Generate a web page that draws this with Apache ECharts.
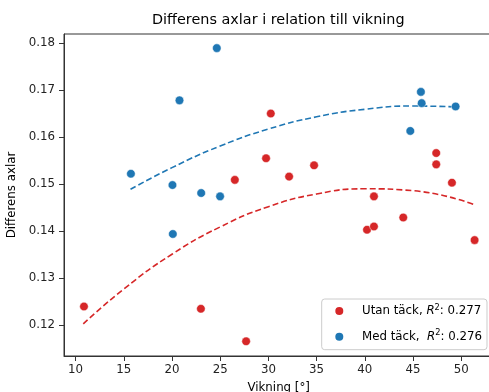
<!DOCTYPE html>
<html><head><meta charset="utf-8">
<script src="https://cdn.jsdelivr.net/npm/echarts@6/dist/echarts.min.js"></script>
<style>html,body{margin:0;padding:0;background:#fff}#c{width:489px;height:392px}</style>
</head><body><div id="c"></div>
<script>
// Utan täck (red)
const redX = [10.87, 23.0, 27.69, 30.25, 26.52, 29.76, 32.15, 34.74, 40.95, 40.23, 40.95, 43.99, 47.41, 47.41, 49.04, 51.39];
const redY = [0.1240, 0.1235, 0.1166, 0.1650, 0.1509, 0.1555, 0.1516, 0.1540, 0.1474, 0.1403, 0.1410, 0.1429, 0.1566, 0.1542, 0.1503, 0.1381];
// Med täck (blue)
const blueX = [24.65, 20.78, 45.82, 45.90, 49.42, 44.72, 15.74, 20.05, 23.03, 24.99, 20.09];
const blueY = [0.1789, 0.1678, 0.1696, 0.1672, 0.1665, 0.1613, 0.1522, 0.1498, 0.1481, 0.1474, 0.1394];
// fitted curves
const redFitX = [10.8, 15, 20, 25, 30, 35, 40, 45, 51.3];
const redFitY = [0.1203, 0.1277, 0.1351, 0.1409, 0.1452, 0.1479, 0.1490, 0.1486, 0.1457];
const blueFitX = [15.7, 20, 25, 30, 35, 40, 45, 49.4];
const blueFitY = [0.1489, 0.1535, 0.1581, 0.1617, 0.1643, 0.1659, 0.1666, 0.1664];
const xTicks = [10, 15, 20, 25, 30, 35, 40, 45, 50];
const yTicks = [0.12, 0.13, 0.14, 0.15, 0.16, 0.17, 0.18];
const labels = ['Utan täck', 'Med täck'];
const r2 = ['0.277', '0.276'];

const RED = '#d62728', BLUE = '#1f77b4';
const F = 'DejaVu Sans';
const FS = 11.8;
const zip = (a, b) => a.map((v, i) => [v, b[i]]);

const chart = echarts.init(document.getElementById('c'), null, {renderer: 'canvas'});
chart.setOption({
  animation: false,
  backgroundColor: '#fff',
  textStyle: {fontFamily: F},
  title: {
    text: 'Differens axlar i relation till vikning',
    left: 152, top: 13, padding: 0,
    textStyle: {fontFamily: F, fontSize: 14.4, fontWeight: 'normal', color: '#000'}
  },
  grid: {left: 64, top: 34, right: -4.4, bottom: 36, outerBoundsMode: 'none', containLabel: false,
    show: true, borderColor: '#333', borderWidth: 1, backgroundColor: 'transparent'},
  xAxis: {
    type: 'value', min: 8.8, max: 53.34,
    name: 'Vikning [°]', nameLocation: 'middle', nameGap: 26,
    nameTextStyle: {fontFamily: F, fontSize: FS, color: '#000'},
    axisLine: {show: true, lineStyle: {color: '#333', width: 1}},
    axisTick: {show: true, inside: false, length: 5, customValues: xTicks, lineStyle: {color: '#333'}},
    axisLabel: {customValues: xTicks, fontFamily: F, fontSize: FS, color: '#222', margin: 8},
    splitLine: {show: false}
  },
  yAxis: {
    type: 'value', min: 0.11347, max: 0.1819,
    name: 'Differens axlar', nameLocation: 'middle', nameGap: 38,
    nameTextStyle: {fontFamily: F, fontSize: FS, color: '#000'},
    axisLine: {show: true, lineStyle: {color: '#333', width: 1}},
    axisTick: {show: true, inside: false, length: 5, customValues: yTicks, lineStyle: {color: '#333'}},
    axisLabel: {customValues: yTicks, fontFamily: F, fontSize: FS, color: '#222', margin: 9,
      formatter: v => v.toFixed(2)},
    splitLine: {show: false}
  },
  legend: {
    data: labels,
    orient: 'vertical',
    left: 321.7, top: 299,
    padding: [4, 5, 5, 11.6],
    itemGap: 9.7,
    itemWidth: 10, itemHeight: 10,
    icon: 'circle',
    backgroundColor: 'rgba(255,255,255,0.8)',
    borderColor: '#ccc', borderWidth: 1, borderRadius: 3,
    formatter: name => {
      const i = labels.indexOf(name);
      const sep = i === 1 ? ',  ' : ', ';
      return name + sep + '{i|R}{s|2}: ' + r2[i];
    },
    textStyle: {
      fontFamily: F, fontSize: FS, color: '#000', padding: [0, 0, 0, 12.7], lineHeight: 16,
      rich: {
        i: {fontFamily: F, fontSize: FS, fontStyle: 'italic', color: '#000', lineHeight: 16},
        s: {fontFamily: F, fontSize: 8.2, color: '#000', padding: [0, 0, 7, 0], lineHeight: 16}
      }
    }
  },
  series: [
    {name: labels[0], type: 'scatter', data: zip(redX, redY), symbolSize: 8.6,
      itemStyle: {color: RED, borderColor: '#fff', borderWidth: 0.5, opacity: 1}, z: 3},
    {name: labels[1], type: 'scatter', data: zip(blueX, blueY), symbolSize: 8.6,
      itemStyle: {color: BLUE, borderColor: '#fff', borderWidth: 0.5, opacity: 1}, z: 3},
    {name: 'fitRed', type: 'line', data: zip(redFitX, redFitY), smooth: true, showSymbol: false, symbol: 'none',
      lineStyle: {color: RED, width: 1.6, type: [6, 3]}, z: 2},
    {name: 'fitBlue', type: 'line', data: zip(blueFitX, blueFitY), smooth: true, showSymbol: false, symbol: 'none',
      lineStyle: {color: BLUE, width: 1.6, type: [6, 3]}, z: 2}
  ]
});
</script></body></html>
